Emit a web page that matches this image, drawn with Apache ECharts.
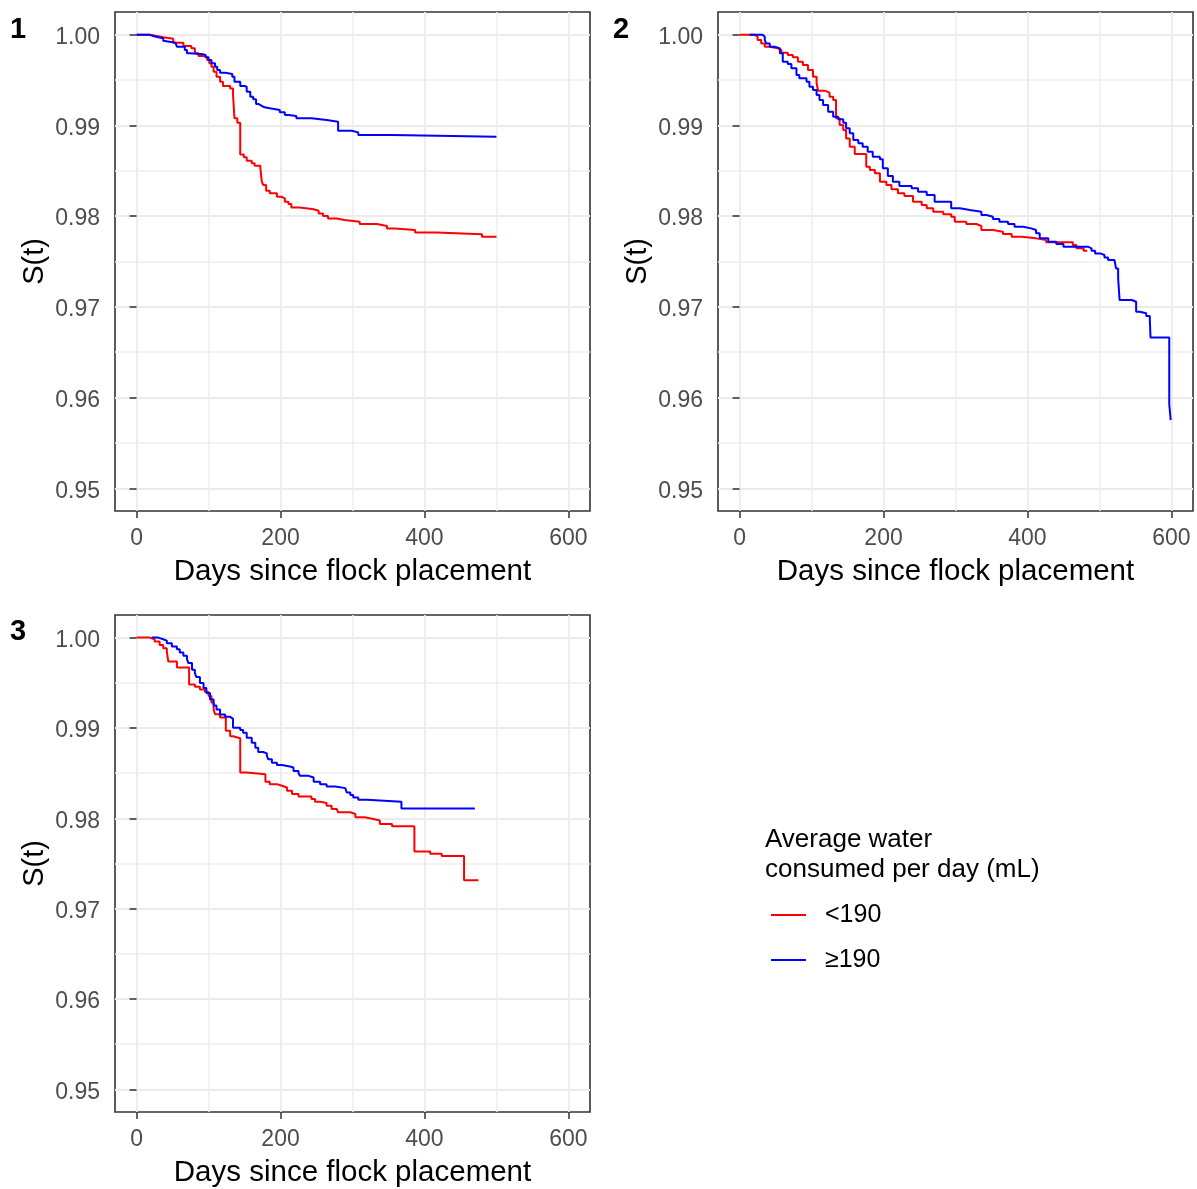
<!DOCTYPE html>
<html><head><meta charset="utf-8">
<script src="https://cdn.jsdelivr.net/npm/echarts@6/dist/echarts.min.js"></script>
<style>html,body{margin:0;padding:0;background:#fff}#c{width:1197px;height:1189px}</style>
</head><body><div id="c"></div>
<script>
const groups = ['<190', '\u2265190'];
const xTicks = [0, 200, 400, 600];
const xMinor = [100, 300, 500];
const yTicks = [0.95, 0.96, 0.97, 0.98, 0.99, 1.00];
const yMinor = [0.955, 0.965, 0.975, 0.985, 0.995];
const panelLabels = ['1', '2', '3'];
const xTitle = 'Days since flock placement';
const yTitle = 'S(t)';
const legendTitle = 'Average water\nconsumed per day (mL)';

// Panel 1
const p1Red = [[0,1],[18,0.99985],[28,0.99971],[37,0.99956],[51,0.99912],[65,0.99875],[76,0.99850],[81,0.99794],[86,0.99765],[93,0.99750],[98,0.99721],[101,0.99684],[104,0.99647],[107,0.99592],[111,0.99537],[116,0.99482],[120,0.99434],[130,0.99408],[134,0.99335],[136,0.99078],[140,0.99030],[144,0.98680],[149,0.98648],[153,0.98611],[160,0.98582],[164,0.98556],[172,0.98527],[174,0.98380],[176,0.98343],[180,0.98280],[185,0.98251],[195,0.98214],[201,0.98196],[206,0.98159],[211,0.98133],[215,0.98096],[227,0.98075],[246,0.98060],[253,0.98030],[259,0.98001],[266,0.97975],[278,0.97957],[289,0.97939],[310,0.97913],[334,0.97891],[348,0.97865],[359,0.97847],[387,0.97821],[417,0.97799],[480,0.97773],[500,0.97773]];
const p1Blue = [[0,1],[18,0.99985],[23,0.99971],[30,0.99960],[37,0.99934],[39,0.99912],[54,0.99893],[56,0.99868],[67,0.99831],[70,0.99794],[74,0.99783],[93,0.99776],[96,0.99750],[100,0.99721],[104,0.99684],[109,0.99647],[112,0.99610],[116,0.99581],[123,0.99566],[133,0.99537],[136,0.99482],[144,0.99434],[150,0.99427],[153,0.99372],[158,0.99317],[162,0.99287],[166,0.99236],[169,0.99214],[174,0.99199],[178,0.99188],[185,0.99170],[199,0.99144],[206,0.99115],[211,0.99104],[222,0.99078],[243,0.99059],[264,0.99041],[280,0.98942],[299,0.98923],[308,0.98894],[355,0.98876],[500,0.98876]];
// Panel 2
const p2Red = [[0,1],[21,0.99978],[25,0.99941],[30,0.99904],[35,0.99868],[42,0.99849],[53,0.99831],[58,0.99802],[67,0.99776],[74,0.99750],[81,0.99703],[88,0.99666],[95,0.99610],[102,0.99537],[107,0.99464],[109,0.99383],[118,0.99361],[125,0.99317],[130,0.99280],[134,0.99078],[139,0.99004],[144,0.98949],[148,0.98857],[153,0.98765],[160,0.98685],[176,0.98545],[181,0.98508],[188,0.98472],[195,0.98380],[204,0.98343],[211,0.98295],[220,0.98251],[229,0.98222],[241,0.98159],[253,0.98122],[260,0.98086],[269,0.98049],[283,0.98020],[294,0.97994],[299,0.97939],[315,0.97913],[329,0.97891],[336,0.97847],[352,0.97828],[366,0.97803],[378,0.97773],[392,0.97755],[412,0.97737],[426,0.97711],[463,0.97681],[468,0.97645],[478,0.97619],[483,0.97619]];
const p2Blue = [[14,1],[32,0.99978],[35,0.99941],[37,0.99904],[42,0.99868],[49,0.99849],[56,0.99794],[60,0.99703],[67,0.99677],[72,0.99629],[79,0.99556],[83,0.99519],[93,0.99482],[97,0.99427],[102,0.99390],[107,0.99335],[111,0.99280],[116,0.99225],[123,0.99151],[130,0.99096],[137,0.99067],[144,0.99030],[148,0.98968],[153,0.98913],[158,0.98839],[165,0.98802],[171,0.98765],[178,0.98710],[185,0.98655],[195,0.98626],[199,0.98527],[206,0.98443],[213,0.98380],[222,0.98332],[239,0.98306],[248,0.98269],[260,0.98233],[271,0.98159],[294,0.98086],[306,0.98067],[320,0.98049],[336,0.98012],[343,0.97994],[352,0.97968],[361,0.97939],[373,0.97913],[382,0.97884],[394,0.97865],[405,0.97847],[412,0.97810],[417,0.97755],[429,0.97718],[440,0.97692],[450,0.97663],[484,0.97645],[489,0.97619],[494,0.97589],[501,0.97571],[507,0.97545],[512,0.97516],[521,0.97498],[523,0.97424],[526,0.97314],[528,0.97075],[545,0.97057],[551,0.96947],[556,0.96929],[565,0.96900],[570,0.96856],[571,0.96661],[597,0.95929],[599,0.95752]];
// Panel 3
const p3Red = [[0,1],[18,0.99982],[25,0.99956],[32,0.99919],[37,0.99882],[42,0.99846],[44,0.99736],[56,0.99670],[73,0.99480],[81,0.99455],[88,0.99426],[95,0.99397],[100,0.99354],[104,0.99281],[107,0.99208],[109,0.99153],[116,0.99116],[124,0.98970],[130,0.98908],[134,0.98886],[144,0.98506],[153,0.98488],[179,0.98404],[185,0.98378],[195,0.98360],[202,0.98341],[209,0.98305],[216,0.98268],[225,0.98242],[243,0.98213],[248,0.98184],[255,0.98169],[264,0.98140],[271,0.98104],[278,0.98086],[280,0.98067],[297,0.98048],[304,0.98012],[317,0.97993],[329,0.97975],[338,0.97938],[355,0.97912],[386,0.97633],[408,0.97607],[424,0.97582],[455,0.97314],[475,0.97314]];
const p3Blue = [[21,1],[30,0.99982],[37,0.99967],[42,0.99938],[49,0.99901],[56,0.99872],[60,0.99835],[65,0.99798],[70,0.99762],[72,0.99718],[77,0.99644],[81,0.99607],[83,0.99563],[88,0.99497],[93,0.99442],[97,0.99387],[102,0.99314],[107,0.99248],[111,0.99204],[116,0.99149],[123,0.99123],[130,0.99101],[134,0.99002],[144,0.98976],[148,0.98947],[153,0.98892],[160,0.98837],[165,0.98782],[169,0.98734],[176,0.98719],[181,0.98690],[183,0.98653],[188,0.98616],[195,0.98591],[202,0.98573],[213,0.98562],[218,0.98525],[225,0.98499],[227,0.98470],[239,0.98451],[246,0.98404],[255,0.98378],[264,0.98352],[276,0.98334],[290,0.98323],[292,0.98286],[297,0.98257],[301,0.98231],[308,0.98206],[320,0.98184],[368,0.98110],[470,0.98110]];

const panels = [
  {red: p1Red, blue: p1Blue, grid: {left: 115, top: 12, width: 475, height: 499}, label: [10, 30]},
  {red: p2Red, blue: p2Blue, grid: {left: 718, top: 12, width: 475, height: 499}, label: [613, 30]},
  {red: p3Red, blue: p3Blue, grid: {left: 115, top: 615, width: 475, height: 499}, label: [10, 632]}
];

const FONT = 'Liberation Sans, Arial, sans-serif';
const grid = [], xAxis = [], yAxis = [], series = [], graphic = [];
panels.forEach((p, i) => {
  grid.push(Object.assign({show: true, borderColor: '#333333', borderWidth: 1.6, backgroundColor: 'transparent', containLabel: false}, p.grid));
  xAxis.push({
    type: 'value', gridIndex: i, min: -30, max: 630,
    name: xTitle, nameLocation: 'middle', nameGap: 46,
    nameTextStyle: {fontSize: 29.5, color: '#000', fontFamily: FONT},
    axisLine: {show: false},
    axisTick: {show: true, length: 7, customValues: xTicks, lineStyle: {color: '#333333', width: 1.5}},
    axisLabel: {show: true, customValues: xTicks, margin: 16, fontSize: 23, color: '#4D4D4D', fontFamily: FONT},
    splitLine: {show: true, lineStyle: {color: '#EBEBEB', width: 1.8}}
  });
  xAxis.push({
    type: 'value', gridIndex: i, min: -30, max: 630, position: 'bottom',
    axisLine: {show: false}, axisLabel: {show: false},
    axisTick: {show: false, customValues: xMinor},
    splitLine: {show: true, lineStyle: {color: '#EEEEEE', width: 1.5}}
  });
  yAxis.push({
    type: 'value', gridIndex: i, min: 0.9475, max: 1.0025,
    name: yTitle, nameLocation: 'middle', nameGap: 66,
    nameTextStyle: {fontSize: 29, color: '#000', fontFamily: FONT},
    axisLine: {show: false},
    axisTick: {show: true, length: 7, customValues: yTicks, lineStyle: {color: '#333333', width: 1.5}},
    axisLabel: {show: true, customValues: yTicks, margin: 15, fontSize: 23, color: '#4D4D4D', fontFamily: FONT,
      verticalAlign: 'top', lineHeight: 6,
      formatter: v => Number(v).toFixed(2)},
    splitLine: {show: true, lineStyle: {color: '#EBEBEB', width: 1.8}}
  });
  yAxis.push({
    type: 'value', gridIndex: i, min: 0.9475, max: 1.0025, position: 'left',
    axisLine: {show: false}, axisLabel: {show: false},
    axisTick: {show: false, customValues: yMinor},
    splitLine: {show: true, lineStyle: {color: '#EEEEEE', width: 1.5}}
  });
  series.push({
    name: groups[0], type: 'line', step: 'end', xAxisIndex: 2 * i, yAxisIndex: 2 * i,
    data: p.red, showSymbol: false, symbol: 'none', color: '#FF0000',
    lineStyle: {color: '#FF0000', width: 2}, z: 3
  });
  series.push({
    name: groups[1], type: 'line', step: 'end', xAxisIndex: 2 * i, yAxisIndex: 2 * i,
    data: p.blue, showSymbol: false, symbol: 'none', color: '#0000FF',
    lineStyle: {color: '#0000FF', width: 2}, z: 4
  });
  graphic.push({
    type: 'text', left: p.label[0], top: p.label[1] - 15,
    style: {text: panelLabels[i], font: 'bold 29px ' + FONT, fill: '#000'}
  });
});

const chart = echarts.init(document.getElementById('c'), null, {renderer: 'canvas'});
chart.setOption({
  animation: false,
  backgroundColor: '#ffffff',
  grid, xAxis, yAxis, series, graphic,
  title: {
    text: legendTitle, left: 760, top: 820, padding: 5,
    textStyle: {fontSize: 26, fontWeight: 'normal', color: '#000', lineHeight: 30, fontFamily: FONT}
  },
  legend: {
    orient: 'vertical', left: 766, top: 897, padding: 5,
    data: groups, icon: 'rect', itemWidth: 35, itemHeight: 2, itemGap: 19,
    textStyle: {fontSize: 25, color: '#000', lineHeight: 26, fontFamily: FONT, padding: [0, 0, 0, 14]}
  }
});
</script>
</body></html>
